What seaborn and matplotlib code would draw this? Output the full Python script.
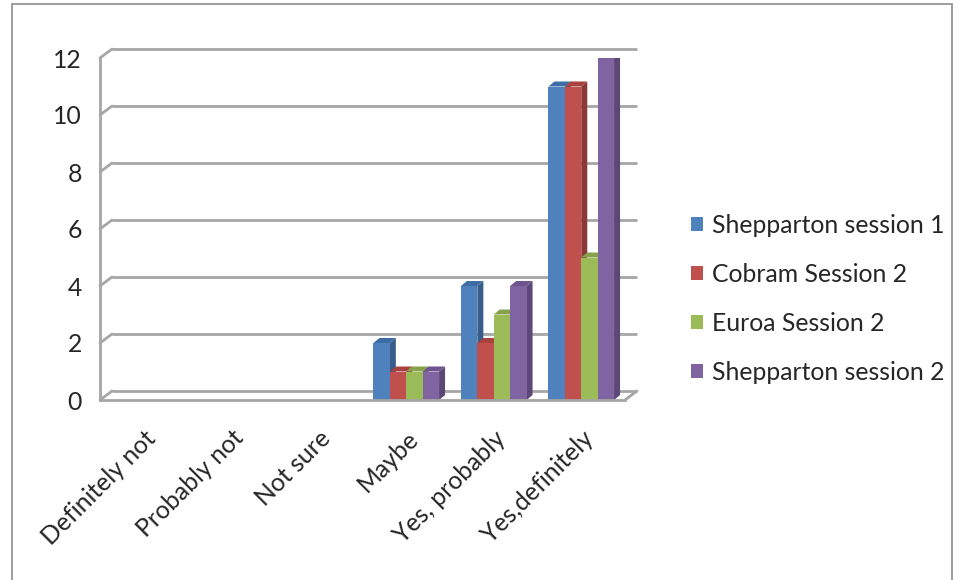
import matplotlib
matplotlib.use("Agg")
import matplotlib.pyplot as plt
import matplotlib.transforms as mtransforms
from matplotlib.patches import Polygon, Rectangle
import seaborn as sns
import pandas as pd
import numpy as np

categories = ["Definitely not", "Probably not", "Not sure", "Maybe", "Yes, probably", "Yes,definitely"]
series_names = ["Shepparton session 1", "Cobram Session 2", "Euroa Session 2", "Shepparton session 2"]
shepparton1 = [0, 0, 0, 2, 4, 11]
cobram2 = [0, 0, 0, 1, 2, 11]
euroa2 = [0, 0, 0, 1, 3, 5]
shepparton2 = [0, 0, 0, 1, 4, 12]
y_ticks = [0, 2, 4, 6, 8, 10, 12]

colors = ["#4F81BD", "#C0504D", "#9BBB59", "#8064A2"]
side_colors = ["#385D8A", "#8C3836", "#71893F", "#5C4776"]
top_colors = ["#3E6DA6", "#A9423F", "#86A34B", "#6E5590"]

rows = []
for name, vals in zip(series_names, [shepparton1, cobram2, euroa2, shepparton2]):
    for c, v in zip(categories, vals):
        rows.append({"category": c, "series": name, "value": v})
df = pd.DataFrame(rows)

sns.set_style("white")
plt.rcParams["font.family"] = ["Lato", "DejaVu Sans"]
FS = 17.8

W, H = 956, 580
fig = plt.figure(figsize=(W / 100, H / 100), dpi=100)
ax = fig.add_axes([100 / W, 1 - 400 / H, (625 - 100) / W, (400 - 58) / H])

sns.barplot(data=df, x="category", y="value", hue="series", order=categories,
            hue_order=series_names, palette=colors, width=0.75, saturation=1,
            edgecolor="none", linewidth=0, ax=ax, legend=True, zorder=3)

ax.set_xlim(-0.5, len(categories) - 0.5)
ax.set_ylim(0, 12)

# back wall gridlines (pseudo-3D)
off = mtransforms.ScaledTranslation(12 / 100, 9 / 100, fig.dpi_scale_trans)
grid_col = "#A6A6A6"
x0, x1 = -0.5, len(categories) - 0.5
for yv in y_ticks:
    ax.plot([x0, x1], [yv, yv], color=grid_col, lw=2, transform=ax.transData + off,
            zorder=0, clip_on=False, solid_capstyle="butt")
    p_front = ax.transData.transform((x0, yv))
    p_back = (ax.transData + off).transform((x0, yv))
    fig.add_artist(plt.Line2D([p_front[0] / W, p_back[0] / W], [p_front[1] / H, p_back[1] / H],
                              color=grid_col, lw=2, zorder=1))
pf = ax.transData.transform((x1, 0))
pb = (ax.transData + off).transform((x1, 0))
fig.add_artist(plt.Line2D([pf[0] / W, pb[0] / W], [pf[1] / H, pb[1] / H], color=grid_col, lw=2, zorder=1))

# 3D faces derived from the drawn bars
dx_px, dy_px = 6, 5
ppx = ax.transData.transform((1, 0))[0] - ax.transData.transform((0, 0))[0]
ppy = ax.transData.transform((0, 1))[1] - ax.transData.transform((0, 0))[1]
ddx, ddy = dx_px / ppx, dy_px / ppy
bars = [p for p in ax.patches if isinstance(p, Rectangle)]
n_cat = len(categories)
for i, bar in enumerate(bars):
    h = bar.get_height()
    if h <= 0:
        continue
    si = i // n_cat
    x = bar.get_x()
    w = bar.get_width()
    side = Polygon([(x + w, 0), (x + w + ddx, ddy), (x + w + ddx, h + ddy), (x + w, h)],
                   closed=True, facecolor=side_colors[si], edgecolor="none", zorder=2.5)
    top = Polygon([(x, h), (x + ddx, h + ddy), (x + w + ddx, h + ddy), (x + w, h)],
                  closed=True, facecolor=top_colors[si], edgecolor="none", zorder=2.5)
    ax.add_patch(side)
    ax.add_patch(top)

for s in ["top", "right"]:
    ax.spines[s].set_visible(False)
for s in ["left", "bottom"]:
    ax.spines[s].set_color(grid_col)
    ax.spines[s].set_linewidth(2)
    ax.spines[s].set_zorder(4)

ax.set_yticks(y_ticks)
ax.set_yticklabels([str(v) for v in y_ticks], fontsize=FS)
ax.tick_params(axis="y", length=7, width=2, color=grid_col, pad=6)

ax.set_xticks(range(n_cat))
ax.set_xticklabels(categories, rotation=45, ha="right", rotation_mode="anchor", fontsize=FS)
ax.tick_params(axis="x", which="major", length=0, pad=19)
ax.set_xticks(np.arange(-0.5, n_cat, 1), minor=True)
ax.tick_params(axis="x", which="minor", length=7, width=2, color=grid_col)
ax.set_xlabel("")
ax.set_ylabel("")

leg = ax.legend(loc="center left", bbox_to_anchor=(691 / W, 1 - 299 / H), bbox_transform=fig.transFigure,
                frameon=False, fontsize=FS, handlelength=0.5, handleheight=0.5,
                handletextpad=0.35, labelspacing=1.05, borderaxespad=0, borderpad=0)

fig.add_artist(Rectangle((12 / W, -0.05), (952 - 12) / W, 1.05 - 4 / H, transform=fig.transFigure,
                         fill=False, edgecolor="#8C8C8C", lw=1.2))

fig.savefig("out.png", dpi=100)
